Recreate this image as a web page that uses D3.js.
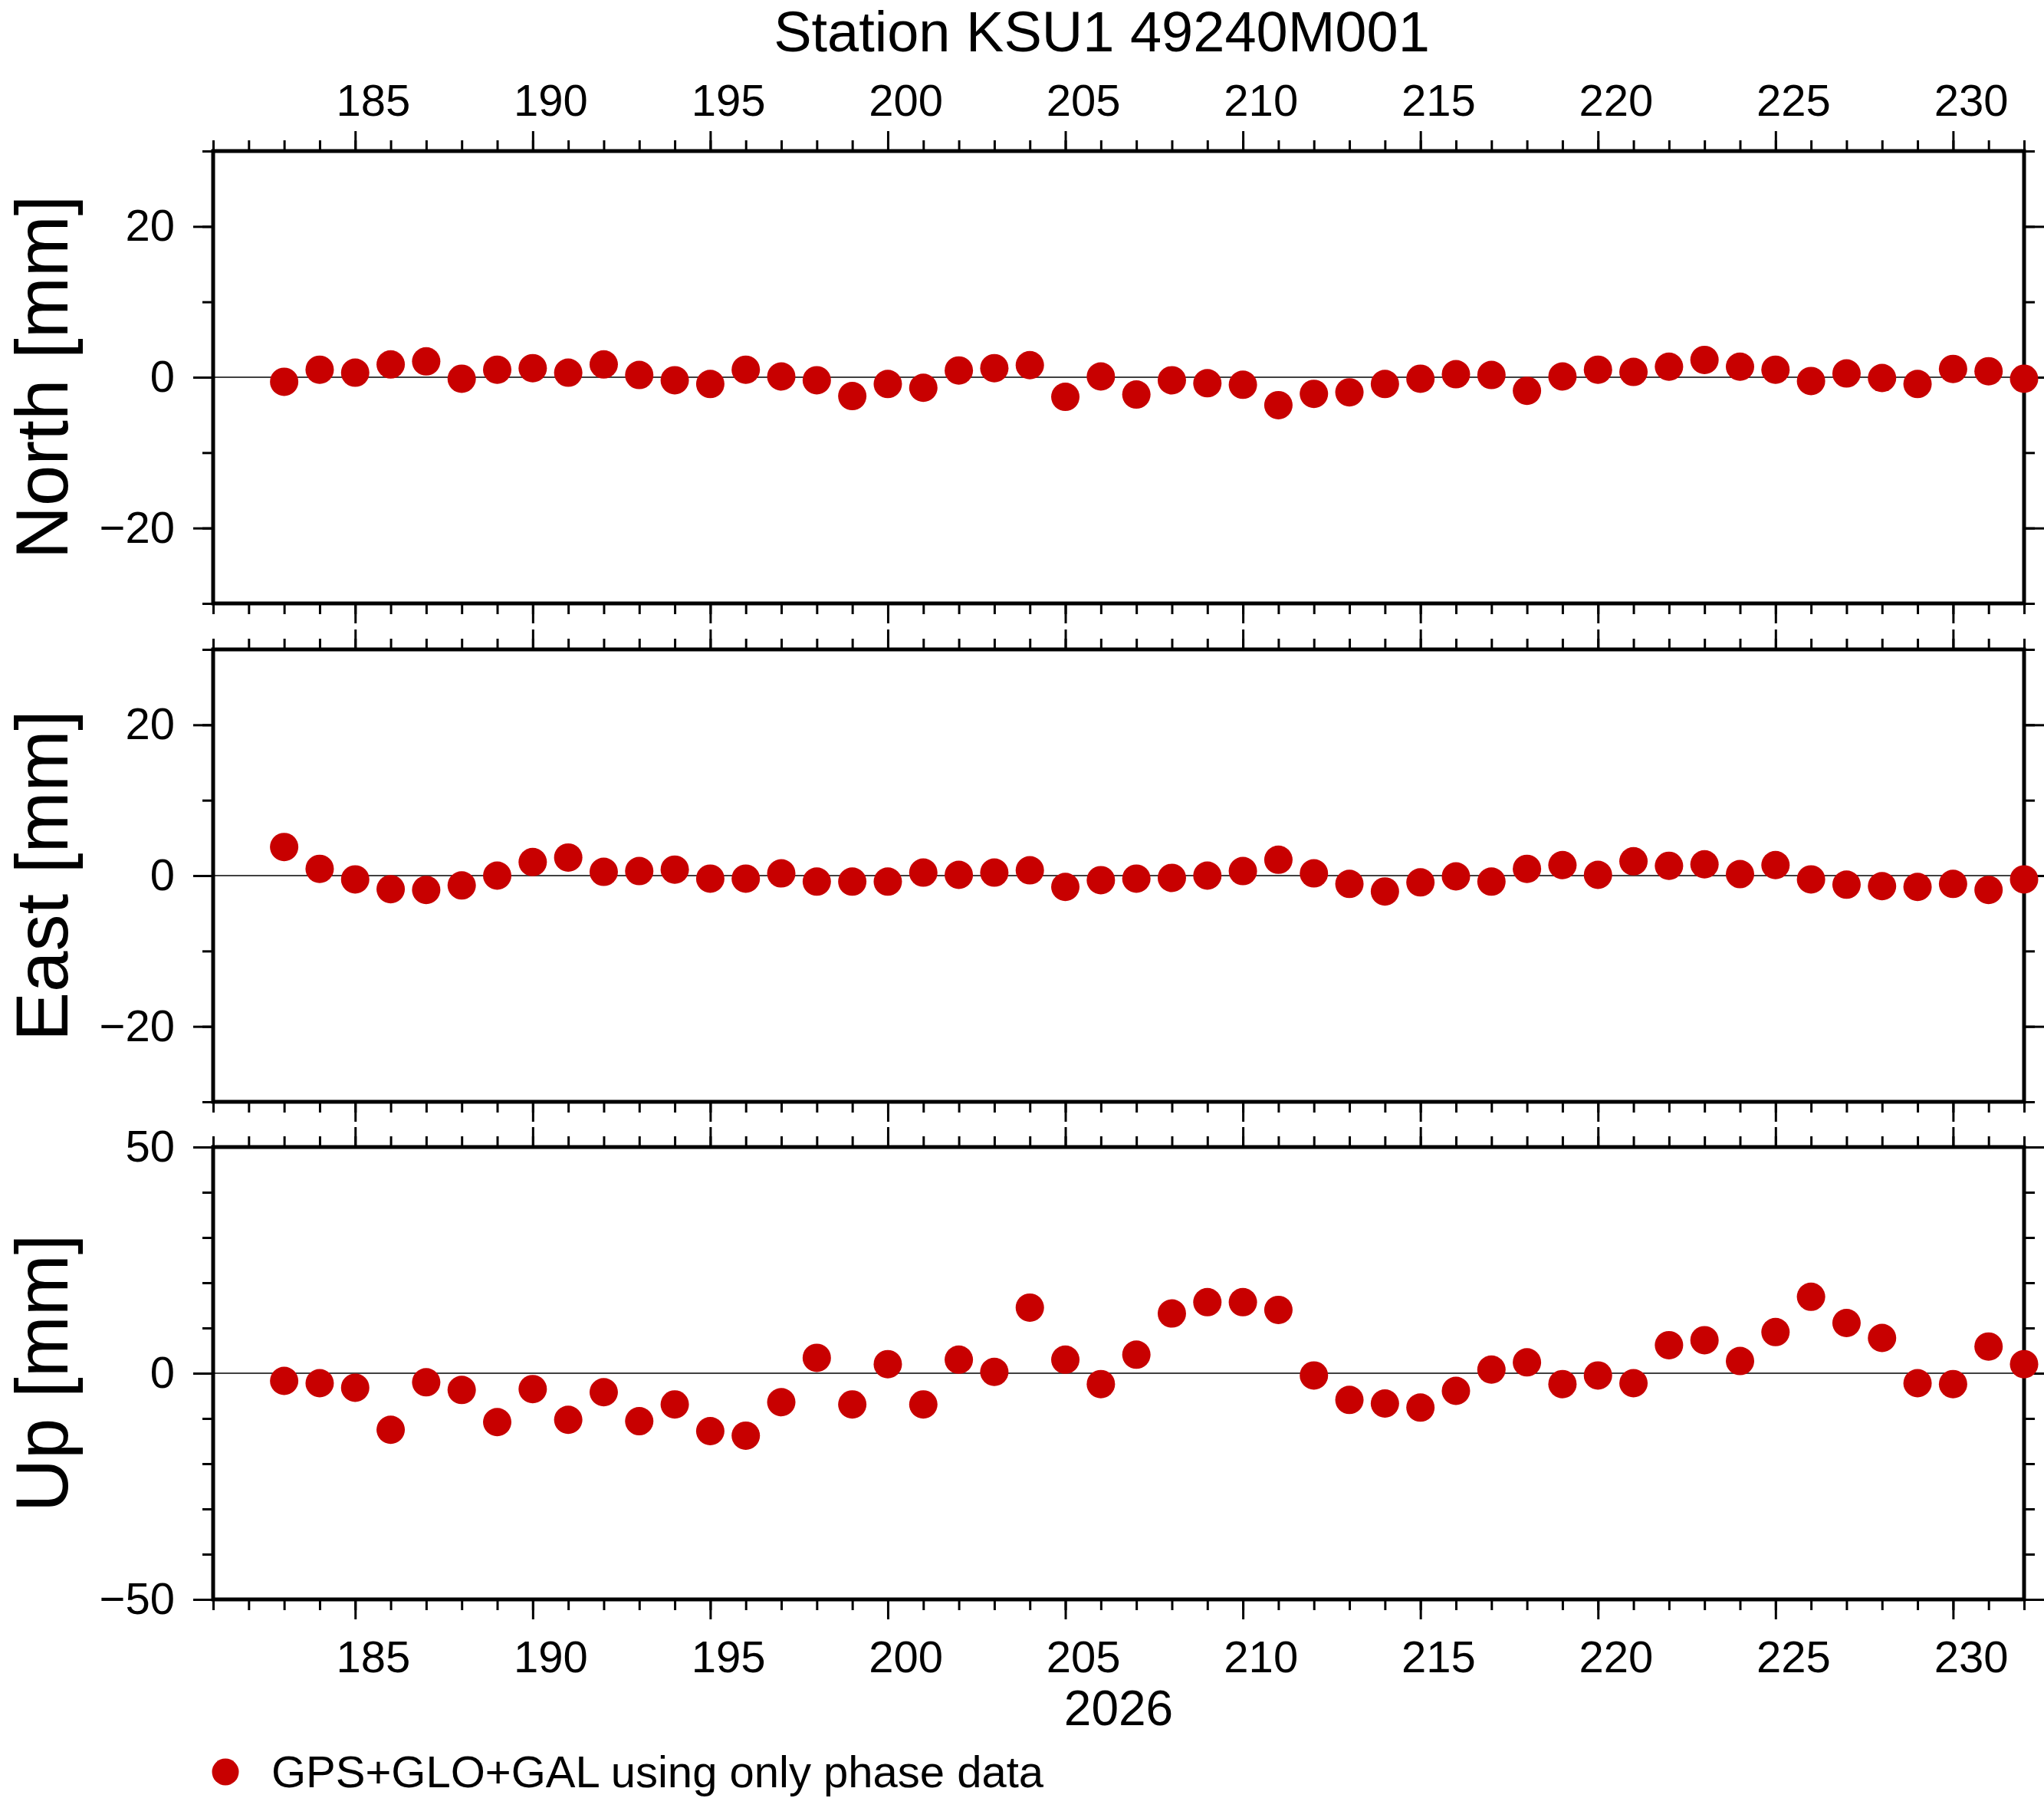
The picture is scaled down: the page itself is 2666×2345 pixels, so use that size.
<!DOCTYPE html>
<html>
<head>
<meta charset="utf-8">
<script src="https://cdn.jsdelivr.net/npm/d3@7"></script>
<style>
  body { margin: 0; background: #fff; }
  svg { display: block; }
</style>
</head>
<body>
<div id="chart"></div>
<script>
// data (day of year 2026, mm)
const days = [183, 184, 185, 186, 187, 188, 189, 190, 191, 192,
              193, 194, 195, 196, 197, 198, 199, 200, 201, 202,
              203, 204, 205, 206, 207, 208, 209, 210, 211, 212,
              213, 214, 215, 216, 217, 218, 219, 220, 221, 222,
              223, 224, 225, 226, 227, 228, 229, 230, 231, 232];

const north = [-0.6, 1.0, 0.6, 1.7, 2.1, -0.2, 1.0, 1.2, 0.6, 1.7,
               0.3, -0.4, -0.9, 1.0, 0.1, -0.4, -2.5, -0.9, -1.4, 0.9,
               1.2, 1.6, -2.6, 0.1, -2.3, -0.4, -0.8, -1.0, -3.7, -2.2,
               -2.0, -0.9, -0.2, 0.4, 0.3, -1.8, 0.1, 1.0, 0.7, 1.4,
               2.3, 1.4, 1.0, -0.5, 0.5, -0.1, -0.9, 1.1, 0.8, -0.2];

const east = [3.8, 0.9, -0.5, -1.8, -1.9, -1.3, 0.0, 1.8, 2.4, 0.5,
              0.6, 0.8, -0.4, -0.4, 0.3, -0.8, -0.8, -0.8, 0.4, 0.1,
              0.4, 0.7, -1.5, -0.6, -0.4, -0.3, 0.0, 0.6, 2.1, 0.3,
              -1.1, -2.1, -0.9, -0.1, -0.8, 0.9, 1.4, 0.1, 1.9, 1.3,
              1.5, 0.2, 1.4, -0.5, -1.2, -1.4, -1.5, -1.1, -1.9, -0.5];

const up = [-1.7, -2.2, -3.2, -12.5, -2.0, -3.7, -10.8, -3.5, -10.3, -4.2,
            -10.6, -6.9, -12.8, -13.8, -6.4, 3.4, -6.9, 2.0, -6.9, 3.0,
            0.3, 14.5, 3.0, -2.4, 4.1, 13.2, 15.7, 15.7, 14.0, -0.5,
            -5.9, -6.7, -7.6, -3.9, 0.8, 2.4, -2.4, -0.5, -2.2, 6.2,
            7.3, 2.7, 9.1, 16.9, 11.1, 7.8, -2.2, -2.4, 5.9, 2.0];

// axis ticks and labels
const dayDomain = [181, 232];
const dayMinorTicks = [181, 182, 183, 184, 185, 186, 187, 188, 189, 190,
                       191, 192, 193, 194, 195, 196, 197, 198, 199, 200,
                       201, 202, 203, 204, 205, 206, 207, 208, 209, 210,
                       211, 212, 213, 214, 215, 216, 217, 218, 219, 220,
                       221, 222, 223, 224, 225, 226, 227, 228, 229, 230,
                       231, 232];
const dayMajorTicks = [185, 190, 195, 200, 205, 210, 215, 220, 225, 230];
// day annotations sit in the middle of their day interval
const DAY_LABEL_SHIFT = 0.5;

const neDomain = [-30, 30];
const neMajorTicks = [-20, 0, 20];
const neMinorTicks = [-30, -20, -10, 0, 10, 20, 30];
const upDomain = [-50, 50];
const upMajorTicks = [-50, 0, 50];
const upMinorTicks = [-50, -40, -30, -20, -10, 0, 10, 20, 30, 40, 50];

const TITLE = "Station KSU1 49240M001";
const YEAR_LABEL = "2026";
const LEGEND_LABEL = "GPS+GLO+GAL using only phase data";

// plot design
const FRAME_WIDTH = 2666;
const FRAME_HEIGHT = 2345;
const PLOT_LEFT = 278;
const PLOT_RIGHT = 2640;
const PANEL_HEIGHT = 590;
const PANEL_TOPS = [197, 847, 1496];
const DOT_COLOR = "#c80000";
const DOT_R = 18.5;
const FONT = "'Liberation Sans', Arial, Helvetica, sans-serif";
const TICK_FONT = 58;
const MAJOR_LEN = 26;
const MINOR_LEN = 14;

const panels = [
  {label: "North [mm]", values: north, domain: neDomain, major: neMajorTicks, minor: neMinorTicks},
  {label: "East [mm]", values: east, domain: neDomain, major: neMajorTicks, minor: neMinorTicks},
  {label: "Up [mm]", values: up, domain: upDomain, major: upMajorTicks, minor: upMinorTicks}
];

const SVG = d3.select("#chart")
              .append("svg")
                .attr("width", FRAME_WIDTH)
                .attr("height", FRAME_HEIGHT)
                .attr("font-family", FONT);

const xScale = d3.scaleLinear()
                 .domain(dayDomain)
                 .range([PLOT_LEFT, PLOT_RIGHT]);

// pixel offset for the centred day labels
const labelShift = xScale(dayDomain[0] + DAY_LABEL_SHIFT) - xScale(dayDomain[0]);

// helper to style an axis group
function styleAxis(g) {
  g.select(".domain").remove();
  g.attr("font-family", FONT).attr("font-size", TICK_FONT);
  g.selectAll(".tick line").attr("stroke", "#000").attr("stroke-width", 3);
  g.selectAll(".tick text").attr("fill", "#000");
}

panels.forEach((p, i) => {
  const top = PANEL_TOPS[i];
  const bottom = top + PANEL_HEIGHT;

  const yScale = d3.scaleLinear()
                   .domain(p.domain)
                   .range([bottom, top]);

  // zero line
  SVG.append("line")
     .attr("x1", PLOT_LEFT).attr("x2", PLOT_RIGHT)
     .attr("y1", yScale(0)).attr("y2", yScale(0))
     .attr("stroke", "#000")
     .attr("stroke-width", 1.3);

  // x ticks on top edge
  SVG.append("g")
     .attr("transform", "translate(0," + top + ")")
     .call(d3.axisTop(xScale).tickValues(dayMinorTicks).tickSize(MINOR_LEN).tickFormat(""))
     .call(styleAxis);
  SVG.append("g")
     .attr("transform", "translate(0," + top + ")")
     .call(d3.axisTop(xScale).tickValues(dayMajorTicks).tickSize(MAJOR_LEN).tickFormat(""))
     .call(styleAxis);

  // x ticks on bottom edge
  SVG.append("g")
     .attr("transform", "translate(0," + bottom + ")")
     .call(d3.axisBottom(xScale).tickValues(dayMinorTicks).tickSize(MINOR_LEN).tickFormat(""))
     .call(styleAxis);
  SVG.append("g")
     .attr("transform", "translate(0," + bottom + ")")
     .call(d3.axisBottom(xScale).tickValues(dayMajorTicks).tickSize(MAJOR_LEN).tickFormat(""))
     .call(styleAxis);

  // day labels above the top panel and below the bottom panel
  if (i === 0) {
    SVG.append("g")
       .attr("transform", "translate(" + labelShift + "," + top + ")")
       .call(d3.axisTop(xScale).tickValues(dayMajorTicks).tickSize(0).tickPadding(46)
             .tickFormat(d3.format("d")))
       .call(styleAxis)
       .call((g) => g.selectAll(".tick line").remove());
  }
  if (i === panels.length - 1) {
    SVG.append("g")
       .attr("transform", "translate(" + labelShift + "," + bottom + ")")
       .call(d3.axisBottom(xScale).tickValues(dayMajorTicks).tickSize(0).tickPadding(54)
             .tickFormat(d3.format("d")))
       .call(styleAxis)
       .call((g) => g.selectAll(".tick line").remove());
  }

  // y ticks left and right
  SVG.append("g")
     .attr("transform", "translate(" + PLOT_LEFT + ",0)")
     .call(d3.axisLeft(yScale).tickValues(p.minor).tickSize(MINOR_LEN).tickFormat(""))
     .call(styleAxis);
  SVG.append("g")
     .attr("transform", "translate(" + PLOT_LEFT + ",0)")
     .call(d3.axisLeft(yScale).tickValues(p.major).tickSize(MAJOR_LEN).tickPadding(24))
     .call(styleAxis);
  SVG.append("g")
     .attr("transform", "translate(" + PLOT_RIGHT + ",0)")
     .call(d3.axisRight(yScale).tickValues(p.minor).tickSize(MINOR_LEN).tickFormat(""))
     .call(styleAxis);
  SVG.append("g")
     .attr("transform", "translate(" + PLOT_RIGHT + ",0)")
     .call(d3.axisRight(yScale).tickValues(p.major).tickSize(MAJOR_LEN).tickFormat(""))
     .call(styleAxis);

  // frame
  SVG.append("rect")
     .attr("x", PLOT_LEFT).attr("y", top)
     .attr("width", PLOT_RIGHT - PLOT_LEFT)
     .attr("height", PANEL_HEIGHT)
     .attr("fill", "none")
     .attr("stroke", "#000")
     .attr("stroke-width", 5);

  // y label
  SVG.append("text")
     .attr("transform", "translate(88," + (top + PANEL_HEIGHT / 2) + ") rotate(-90)")
     .attr("text-anchor", "middle")
     .attr("font-size", 96)
     .attr("fill", "#000")
     .text(p.label);

  // points
  SVG.append("g")
     .selectAll("circle")
     .data(days)
     .enter()
     .append("circle")
       .attr("cx", (d) => xScale(d))
       .attr("cy", (d, j) => yScale(p.values[j]))
       .attr("r", DOT_R)
       .attr("fill", DOT_COLOR);
});

// title
SVG.append("text")
   .attr("x", 1437)
   .attr("y", 67)
   .attr("text-anchor", "middle")
   .attr("font-size", 74)
   .attr("fill", "#000")
   .text(TITLE);

// year label under bottom axis
SVG.append("text")
   .attr("x", (PLOT_LEFT + PLOT_RIGHT) / 2)
   .attr("y", 2250)
   .attr("text-anchor", "middle")
   .attr("font-size", 64)
   .attr("fill", "#000")
   .text(YEAR_LABEL);

// legend
SVG.append("circle")
   .attr("cx", 294)
   .attr("cy", 2311)
   .attr("r", 17.5)
   .attr("fill", DOT_COLOR);
SVG.append("text")
   .attr("x", 354)
   .attr("y", 2331)
   .attr("font-size", 58)
   .attr("fill", "#000")
   .text(LEGEND_LABEL);
</script>
</body>
</html>
